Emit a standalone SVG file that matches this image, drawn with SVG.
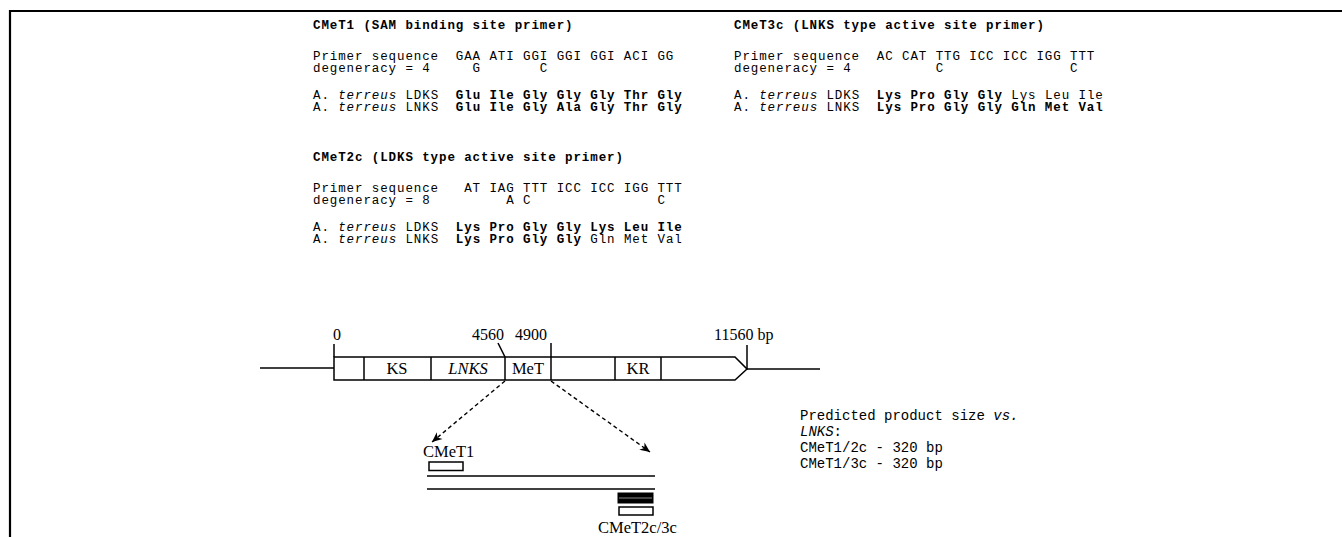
<svg xmlns="http://www.w3.org/2000/svg" width="1342" height="537" viewBox="0 0 1342 537">
<style>
.m{font-family:"Liberation Mono","Courier New",monospace;font-size:12.5px;letter-spacing:0.9px;fill:#000;white-space:pre}
.p{font-family:"Liberation Mono","Courier New",monospace;font-size:14px;fill:#000;white-space:pre}
.b{font-weight:bold}
.i{font-style:italic}
.s{font-family:"Liberation Serif","Times New Roman",serif;font-size:16.5px;fill:#000}
.n{font-family:"Liberation Serif","Times New Roman",serif;font-size:16px;fill:#000}
.ln{stroke:#000;stroke-width:1.5;fill:none}
.box{stroke:#000;stroke-width:1.5;fill:#fff}
.dash{stroke:#000;stroke-width:1.4;fill:none;stroke-dasharray:4 3}
</style>
<defs>
<marker id="ah" viewBox="0 0 10 10" refX="10" refY="5" markerWidth="14" markerHeight="10" markerUnits="userSpaceOnUse" orient="auto">
<path d="M0,0.5 L10,5 L0,9.5 L3,5 z" fill="#000"/>
</marker>
</defs>
<rect width="1342" height="537" fill="#fff"/>
<g id="frame">
<path d="M10,537 V11 H1342" stroke="#000" stroke-width="2.2" fill="none"/>
</g>
<g id="primer-CMeT1">
<text class="m b" x="313" y="29" xml:space="preserve">CMeT1 (SAM binding site primer)</text>
<text class="m" x="313" y="60" xml:space="preserve">Primer sequence  GAA ATI GGI GGI GGI ACI GG</text>
<text class="m" x="313" y="72" xml:space="preserve">degeneracy = 4     G       C</text>
<text class="m" x="313" y="99" xml:space="preserve">A. <tspan class="i">terreus</tspan> LDKS  <tspan class="b">Glu Ile Gly Gly Gly Thr Gly</tspan></text>
<text class="m" x="313" y="111" xml:space="preserve">A. <tspan class="i">terreus</tspan> LNKS  <tspan class="b">Glu Ile Gly Ala Gly Thr Gly</tspan></text>
</g>
<g id="primer-CMeT2c">
<text class="m b" x="313" y="161" xml:space="preserve">CMeT2c (LDKS type active site primer)</text>
<text class="m" x="313" y="192" xml:space="preserve">Primer sequence   AT IAG TTT ICC ICC IGG TTT</text>
<text class="m" x="313" y="204" xml:space="preserve">degeneracy = 8         A C               C</text>
<text class="m" x="313" y="231" xml:space="preserve">A. <tspan class="i">terreus</tspan> LDKS  <tspan class="b">Lys Pro Gly Gly Lys Leu Ile</tspan></text>
<text class="m" x="313" y="243" xml:space="preserve">A. <tspan class="i">terreus</tspan> LNKS  <tspan class="b">Lys Pro Gly Gly</tspan> Gln Met Val</text>
</g>
<g id="primer-CMeT3c">
<text class="m b" x="734" y="29" xml:space="preserve">CMeT3c (LNKS type active site primer)</text>
<text class="m" x="734" y="60" xml:space="preserve">Primer sequence  AC CAT TTG ICC ICC IGG TTT</text>
<text class="m" x="734" y="72" xml:space="preserve">degeneracy = 4          C               C</text>
<text class="m" x="734" y="99" xml:space="preserve">A. <tspan class="i">terreus</tspan> LDKS  <tspan class="b">Lys Pro Gly Gly</tspan> Lys Leu Ile</text>
<text class="m" x="734" y="111" xml:space="preserve">A. <tspan class="i">terreus</tspan> LNKS  <tspan class="b">Lys Pro Gly Gly Gln Met Val</tspan></text>
</g>
<g id="gene">
<line class="ln" x1="260" y1="368" x2="334" y2="368"/>
<line class="ln" x1="747" y1="369" x2="820" y2="369"/>
<path class="box" d="M334,357 H735 L747,369 L735,380 H334 Z"/>
<line class="ln" x1="364" y1="357" x2="364" y2="380"/>
<line class="ln" x1="431" y1="357" x2="431" y2="380"/>
<line class="ln" x1="505" y1="357" x2="505" y2="380"/>
<line class="ln" x1="551" y1="357" x2="551" y2="380"/>
<line class="ln" x1="615" y1="357" x2="615" y2="380"/>
<line class="ln" x1="661" y1="357" x2="661" y2="380"/>
<text class="s" x="397" y="374" text-anchor="middle">KS</text>
<text class="s i" x="468" y="374" text-anchor="middle">LNKS</text>
<text class="s" x="528" y="374" text-anchor="middle">MeT</text>
<text class="s" x="638" y="374" text-anchor="middle">KR</text>
</g>
<g id="scale">
<line class="ln" x1="334" y1="344" x2="334" y2="357"/>
<line class="ln" x1="498" y1="343" x2="505" y2="357"/>
<line class="ln" x1="551" y1="343" x2="551" y2="357"/>
<line class="ln" x1="747" y1="345" x2="747" y2="369"/>
<text class="n" x="337" y="340" text-anchor="middle">0</text>
<text class="n" x="472" y="340">4560</text>
<text class="n" x="515" y="340">4900</text>
<text class="n" x="714" y="340">11560 bp</text>
</g>
<g id="connectors">
<line class="dash" x1="505" y1="381" x2="432" y2="442" marker-end="url(#ah)"/>
<line class="dash" x1="551" y1="381" x2="650" y2="452" marker-end="url(#ah)"/>
</g>
<g id="amplicon">
<line class="ln" x1="427" y1="476" x2="655" y2="476"/>
<line class="ln" x1="427" y1="489" x2="655" y2="489"/>
<rect class="box" x="429" y="462" width="34" height="8.5"/>
<text class="s" x="423" y="457">CMeT1</text>
<rect x="618" y="493" width="35" height="10" fill="#000" stroke="#000" stroke-width="1"/>
<line x1="619" y1="498" x2="652" y2="498" stroke="#888" stroke-width="1"/>
<rect class="box" x="619" y="507" width="34" height="8"/>
<text class="s" x="598" y="533">CMeT2c/3c</text>
</g>
<g id="prediction">
<text class="p" x="800" y="420" xml:space="preserve">Predicted product size <tspan class="i">vs.</tspan></text>
<text class="p" x="800" y="436" xml:space="preserve"><tspan class="i">LNKS</tspan>:</text>
<text class="p" x="800" y="452" xml:space="preserve">CMeT1/2c - 320 bp</text>
<text class="p" x="800" y="468" xml:space="preserve">CMeT1/3c - 320 bp</text>
</g>
</svg>
